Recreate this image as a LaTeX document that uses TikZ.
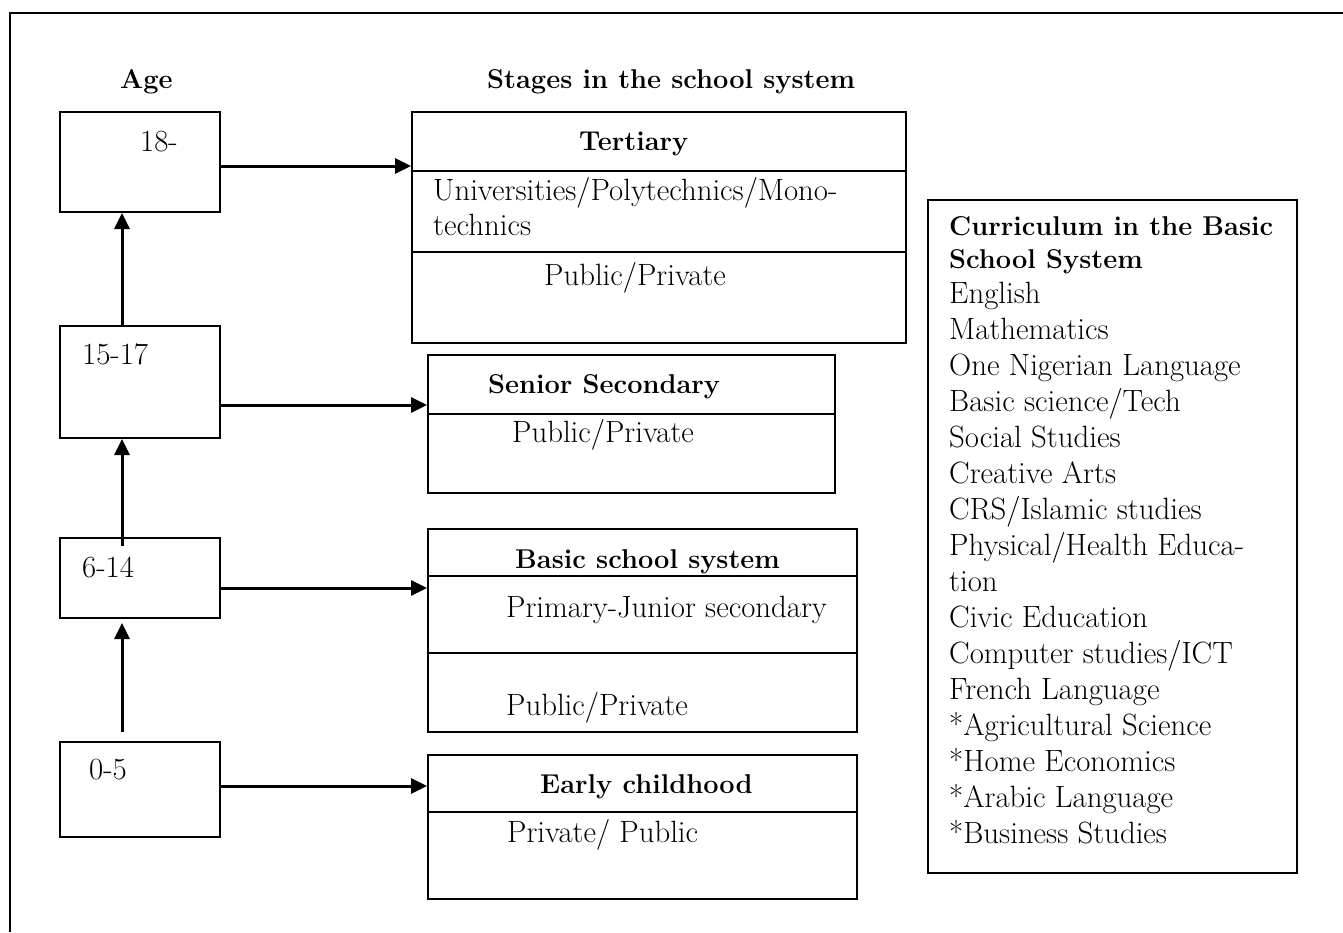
\documentclass[tikz,border=0pt]{standalone}
\usepackage{fontspec}
\usetikzlibrary{arrows.meta}
\begin{document}
\begin{tikzpicture}[x=1pt,y=-1pt,
  frame/.style={line width=2pt},
  box/.style={draw,line width=2pt,inner sep=0pt},
  sep/.style={line width=2pt},
  arr/.style={line width=3pt,-{Triangle[length=16pt,width=15pt]}},
  txt/.style={anchor=base west,inner sep=0pt,font=\fontsize{30.8}{36}\selectfont},
  hd/.style={anchor=base west,inner sep=0pt,font=\fontsize{27.2}{32}\selectfont\bfseries}]
\useasboundingbox (0,0) rectangle (1343,932);

% outer frame (only the left and top edges fall on the page)
\draw[frame] (10,932) -- (10,13) -- (1343,13);

% column headings
\node[hd] (hAge) at (120,88) {Age};
\node[hd] (hStages) at (487,88) {Stages in the school system};

% age boxes
\node[box,minimum width=160pt,minimum height=100pt] (b18) at (140,162) {};
\node[box,minimum width=160pt,minimum height=112pt] (b1517) at (140,382) {};
\node[box,minimum width=160pt,minimum height=80pt] (b614) at (140,578) {};
\node[box,minimum width=160pt,minimum height=95pt] (b05) at (140,789.5) {};
\node[txt] (t18) at (140,151) {18-};
\node[txt] (t1517) at (82,364) {15-17};
\node[txt] (t614) at (82,577) {6-14};
\node[txt] (t05) at (89,779) {0-5};

% stage boxes
\node[box,minimum width=494pt,minimum height=231pt] (tert) at (659,227.5) {};
\draw[sep] ([yshift=-60pt]tert.north west) -- ([yshift=-60pt]tert.north east);
\draw[sep] ([yshift=-141pt]tert.north west) -- ([yshift=-141pt]tert.north east);
\node[hd] (tTert) at (579,150) {Tertiary};
\node[txt] (tUni1) at (433,200) {Universities/Polytechnics/Mono-};
\node[txt] (tUni2) at (433,235) {technics};
\node[txt] (tTertPP) at (544,285) {Public/Private};

\node[box,minimum width=407pt,minimum height=138pt] (senior) at (631.5,424) {};
\draw[sep] ([yshift=-60pt]senior.north west) -- ([yshift=-60pt]senior.north east);
\node[hd] (tSen) at (488,393) {Senior Secondary};
\node[txt] (tSenPP) at (512,442) {Public/Private};

\node[box,minimum width=429pt,minimum height=203pt] (basic) at (642.5,630.5) {};
\draw[sep] ([yshift=-48pt]basic.north west) -- ([yshift=-48pt]basic.north east);
\draw[sep] ([yshift=-125pt]basic.north west) -- ([yshift=-125pt]basic.north east);
\node[hd] (tBasic) at (515,568) {Basic school system};
\node[txt] (tPJ) at (506,617) {Primary-Junior secondary};
\node[txt] (tBasicPP) at (506,715) {Public/Private};

\node[box,minimum width=429pt,minimum height=144pt] (early) at (642.5,827) {};
\draw[sep] ([yshift=-58pt]early.north west) -- ([yshift=-58pt]early.north east);
\node[hd] (tEarly) at (540,793) {Early childhood};
\node[txt] (tEarlyPP) at (507,842) {Private/ Public};

% curriculum box
\node[box,minimum width=369pt,minimum height=673pt] (curr) at (1112.5,536.5) {};
\node[hd] (c0) at (949,235) {Curriculum in the Basic};
\node[hd] (c00) at (949,268) {School System};
\foreach \t [count=\i] in {English,Mathematics,One Nigerian Language,Basic science/Tech,Social Studies,Creative Arts,CRS/Islamic studies,Physical/Health Educa-,tion,Civic Education,Computer studies/ICT,French Language,*Agricultural Science,*Home Economics,*Arabic Language,*Business Studies}
  \node[txt] (c\i) at (949,{303+36*(\i-1)}) {\t};

% upward arrows between age groups
\draw[arr] ([xshift=-18pt]b1517.north) -- ([xshift=-18pt]b18.south);
\draw[arr] ([xshift=-18pt,yshift=-9pt]b614.north) -- ([xshift=-18pt]b1517.south);
\draw[arr] ([xshift=-18pt,yshift=9pt]b05.north) -- ([xshift=-18pt,yshift=-4pt]b614.south);

% arrows from ages to stages
\draw[arr] ([yshift=-4pt]b18.east) coordinate (s1) -- (s1 -| tert.west);
\draw[arr] ([yshift=-23pt]b1517.east) coordinate (s2) -- (s2 -| senior.west);
\draw[arr] ([yshift=-10pt]b614.east) coordinate (s3) -- (s3 -| basic.west);
\draw[arr] ([yshift=3.5pt]b05.east) coordinate (s4) -- (s4 -| early.west);
\end{tikzpicture}
\end{document}
